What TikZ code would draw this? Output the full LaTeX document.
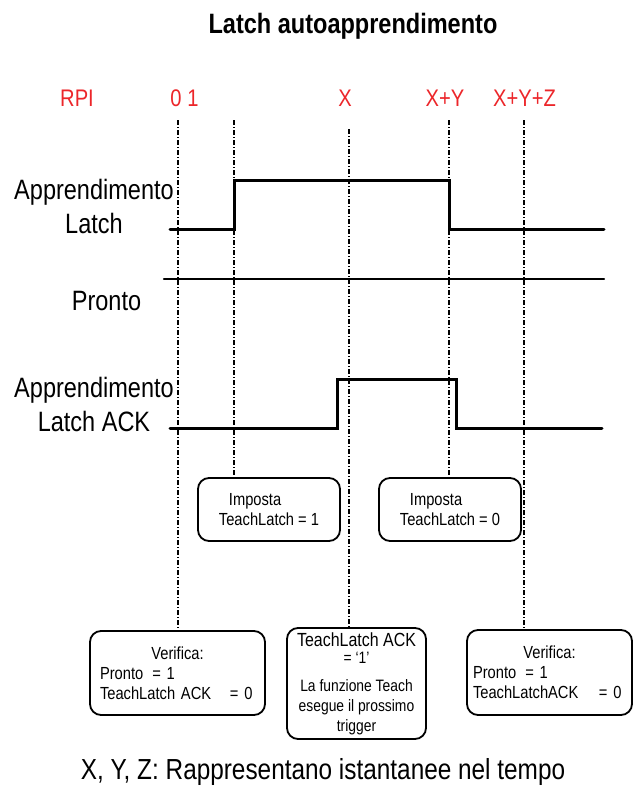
\documentclass[tikz,border=0pt]{standalone}
\usepackage{fontspec}
\setmainfont{Liberation Sans}[FakeStretch=0.84]
\usepackage{xcolor}
\usepackage{tikz}

\definecolor{rpired}{RGB}{236,38,42}
\tikzset{
	signal/.style={line width=3pt,line cap=round},
	timeline/.style={line width=1.2pt,dash pattern=on 5pt off 2pt on 1pt off 2pt},
	notebox/.style={draw,line width=1.8pt,rounded corners=11pt,inner sep=0pt,font=\fontsize{17.5}{20}\selectfont},
	siglabel/.style={align=center,inner sep=0pt,font=\fontsize{28}{34}\selectfont},
	instant/.style={anchor=base,inner sep=0pt,text=rpired,font=\fontsize{24}{28}\selectfont}
}

\begin{document}
\begin{tikzpicture}[x=1pt,y=-1pt]
	\useasboundingbox (0,0) rectangle (636,796);
	\node[anchor=base,inner sep=0pt,font=\bfseries\fontsize{28}{32}\selectfont] (title) at (353,33) {Latch autoapprendimento};
	
	% istanti di tempo
	\node[instant] (rpi) at (77,106) {RPI};
	\node[instant] (t01) at (184.5,106) {0 1};
	\node[instant] (tX) at (345,106) {X};
	\node[instant] (tXY) at (445,106) {X+Y};
	\node[instant] (tXYZ) at (524.5,106) {X+Y+Z};
	\coordinate (t0) at (178,120);
	\coordinate (t1) at (234,120);
	\coordinate (tx) at (349,129);
	\coordinate (txy) at (449,120);
	\coordinate (txyz) at (524,120);
	
	% segnali
	\node[siglabel] (latch) at (94,206) {Apprendimento\\Latch};
	\node[siglabel] (pronto) at (106.5,301) {Pronto};
	\node[siglabel] (ack) at (94,404) {Apprendimento\\Latch ACK};
	\draw[signal] (170,229) -- (234,229) -- (234,180) -- (449,180) -- (449,229) -- (604,229);
	\draw[line width=2.4pt,line cap=round] (164,279) -- (604,279);
	\draw[signal] (170,428) -- (337,428) -- (337,379) -- (456,379) -- (456,428) -- (602,428);
	
	% riquadri
	\node[notebox,align=left,minimum width=142pt,minimum height=63pt] (imp1) at (269,509.5)
		{\hspace*{10pt}Imposta\\TeachLatch = 1};
	\node[notebox,align=left,minimum width=142pt,minimum height=63pt] (imp2) at (450,509.5)
		{\hspace*{10pt}Imposta\\TeachLatch = 0};
	\node[notebox,align=left,text width=155pt,minimum width=175pt,minimum height=84pt] (ver1) at (177.5,673)
		{\makebox[155pt]{Verifica:}\\Pronto\hspace{9pt}= 1\\\makebox[130pt][l]{TeachLatch ACK}= 0};
	\node[notebox,align=center,minimum width=139pt,minimum height=111pt,font=\fontsize{16.5}{20}\selectfont] (teach) at (356.5,683.5)
		{{\fontsize{19}{20}\selectfont TeachLatch ACK}\\[-3pt]= ‘1’\\[8pt]La funzione Teach\\esegue il prossimo\\trigger};
	\node[notebox,align=left,text width=153pt,minimum width=165pt,minimum height=85pt] (ver2) at (549.5,672.5)
		{\makebox[153pt]{Verifica:}\\Pronto\hspace{9pt}= 1\\\makebox[126pt][l]{TeachLatchACK}= 0};
	
	\draw[timeline] (t0) -- (t0 |- ver1.north);
	\draw[timeline] (t1) -- (t1 |- imp1.north);
	\draw[timeline] (tx) -- (tx |- teach.north);
	\draw[timeline] (txy) -- (txy |- imp2.north);
	\draw[timeline] (txyz) -- (txyz |- ver2.north);
	
	\node[anchor=base,inner sep=0pt,font=\fontsize{29}{32}\selectfont] (nota) at (323,779) {X, Y, Z: Rappresentano istantanee nel tempo};
\end{tikzpicture}
\end{document}
